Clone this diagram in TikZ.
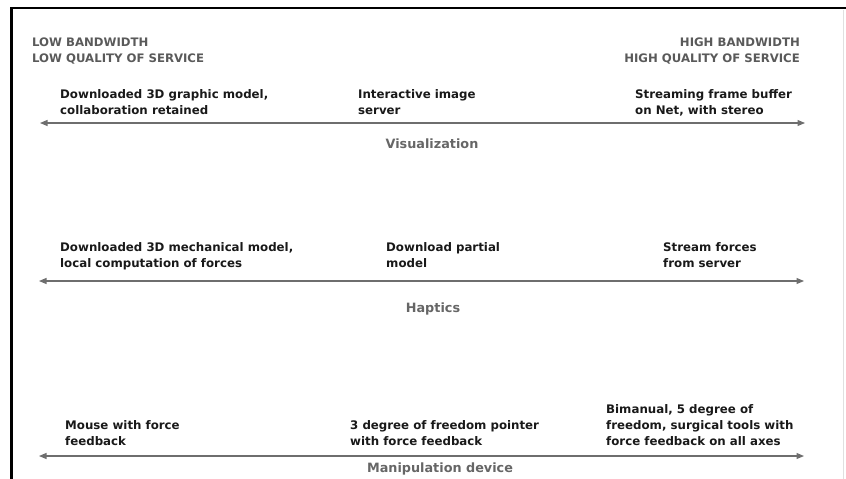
\documentclass[tikz,border=0pt]{standalone}
\usepackage{fontspec}
\setmainfont{DejaVu Sans}
\usetikzlibrary{arrows.meta}
\definecolor{headgrey}{HTML}{5A5A5A}
\definecolor{axisgrey}{HTML}{6E6E6E}
\definecolor{namegrey}{HTML}{666666}
\tikzset{
  item/.style = {font=\bfseries\fontsize{11.8}{16}\selectfont, align=left,
                 anchor=base west, inner sep=0pt, text=black!90},
  extreme/.style = {font=\bfseries\fontsize{11.7}{16}\selectfont,
                    inner sep=0pt, text=headgrey},
  axisname/.style = {font=\bfseries\fontsize{12.8}{15}\selectfont,
                     anchor=base, inner sep=0pt, text=namegrey},
  axisline/.style = {axisgrey, line width=1.1pt,
                     {Triangle[length=7.5pt,width=6pt]}-{Triangle[length=7.5pt,width=6pt]}}
}

\begin{document}
\begin{tikzpicture}[x=1pt,y=-1pt]
  \useasboundingbox (0,0) rectangle (846,479);
  \draw[line width=2.6pt] (11.5,479) |- (846,8);
  \draw[black!12] (843,10) -- (843,479);

  % the base of a node is the baseline of its last line
  \node[extreme, align=left, anchor=base west] (low) at (32,62)
    {LOW BANDWIDTH\\LOW QUALITY OF SERVICE};
  \node[extreme, align=right, anchor=base east] (high) at (800,62)
    {HIGH BANDWIDTH\\HIGH QUALITY OF SERVICE};

  % visualization
  \node[item] (vis-a) at (60,114) {Downloaded 3D graphic model,\\collaboration retained};
  \node[item] (vis-b) at (358,114) {Interactive image\\server};
  \node[item] (vis-c) at (635,114) {Streaming frame buffer\\on Net, with stereo};
  \coordinate (vis-lo) at (40,123);
  \coordinate (vis-hi) at (805,123);
  \draw[axisline] (vis-lo) -- (vis-hi);
  \node[axisname] (vis) at (432,148) {Visualization};

  % haptics
  \node[item] (hap-a) at (60,267) {Downloaded 3D mechanical model,\\local computation of forces};
  \node[item] (hap-b) at (386,267) {Download partial\\model};
  \node[item] (hap-c) at (663,267) {Stream forces\\from server};
  \coordinate (hap-lo) at (39,281);
  \coordinate (hap-hi) at (804,281);
  \draw[axisline] (hap-lo) -- (hap-hi);
  \node[axisname] (hap) at (433,312) {Haptics};

  % manipulation device
  \node[item] (man-a) at (65,445) {Mouse with force\\feedback};
  \node[item] (man-b) at (350,445) {3 degree of freedom pointer\\with force feedback};
  \node[item] (man-c) at (606,445) {Bimanual, 5 degree of\\freedom, surgical tools with\\force feedback on all axes};
  \coordinate (man-lo) at (39,456);
  \coordinate (man-hi) at (804,456);
  \draw[axisline] (man-lo) -- (man-hi);
  \node[axisname] (man) at (440,472) {Manipulation device};
\end{tikzpicture}
\end{document}
